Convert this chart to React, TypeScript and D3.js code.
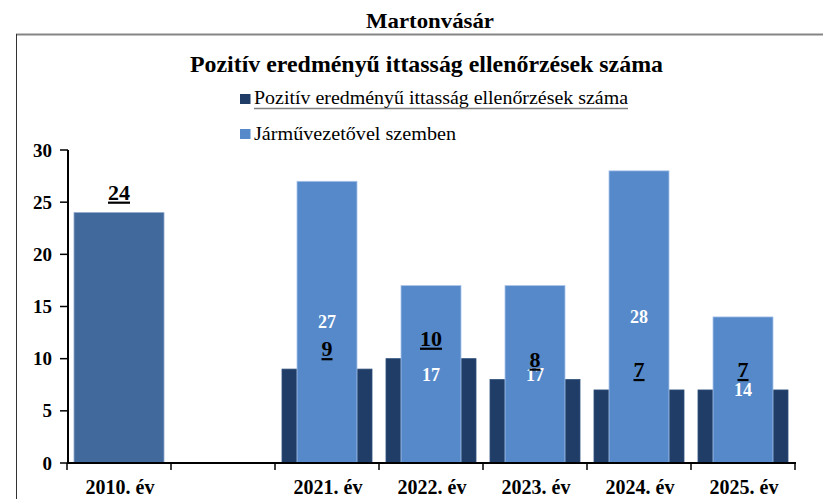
import React from "react";
import * as d3 from "d3";

const categories = ["2010. év", "", "2021. év", "2022. év", "2023. év", "2024. év", "2025. év"];
const seriesNames = ["Pozitív eredményű ittasság ellenőrzések száma", "Járművezetővel szemben"];
const positiveValues: (number | null)[] = [24, null, 9, 10, 8, 7, 7];
const driverValues: (number | null)[] = [null, null, 27, 17, 17, 28, 14];
const yTicks = [0, 5, 10, 15, 20, 25, 30];
const pageTitle = "Martonvásár";
const chartTitle = "Pozitív eredményű ittasság ellenőrzések száma";

const W = 823;
const H = 499;
const FONT = "'Liberation Serif', 'Times New Roman', serif";
const DARK = "#1F3D66";
const FIRST = "#41699C";
const LIGHT = "#5689C9";

export default function App() {
  const x = d3
    .scaleBand<number>()
    .domain(d3.range(categories.length))
    .range([67, 795])
    .padding(0);
  const y = d3.scaleLinear().domain([0, 30]).range([463, 150]);
  const bw = x.bandwidth();
  const darkW = bw * (90 / 104);
  const lightW = bw * (60 / 104);
  const boundaries = d3.range(categories.length + 1).map((i) => 67 + i * bw);

  return (
    <svg
      width={W}
      height={H}
      style={{ position: "absolute", left: 0, top: 0, background: "#fff" }}
      fontFamily={FONT}
    >
      <rect width={W} height={H} fill="#fff" />
      <text
        x={366}
        y={28}
        fontSize={22}
        fontWeight="bold"
        textLength={128}
        lengthAdjust="spacingAndGlyphs"
      >
        {pageTitle}
      </text>
      <line x1={16} x2={W} y1={34.5} y2={34.5} stroke="#858585" strokeWidth={2} />
      <line x1={16.5} x2={16.5} y1={34} y2={H} stroke="#333" strokeWidth={1} />

      <text
        x={190}
        y={72}
        fontSize={23}
        fontWeight="bold"
        textLength={473}
        lengthAdjust="spacingAndGlyphs"
      >
        {chartTitle}
      </text>

      {/* legend */}
      <rect x={240} y={94} width={10.5} height={10} fill={DARK} />
      <text x={254} y={104} fontSize={19} textLength={374} lengthAdjust="spacingAndGlyphs">
        {seriesNames[0]}
      </text>
      <line x1={254} x2={628} y1={108.5} y2={108.5} stroke="#808080" strokeWidth={1.5} />
      <rect x={240} y={129} width={10.5} height={10} fill={LIGHT} />
      <text x={254} y={140} fontSize={19} textLength={202} lengthAdjust="spacingAndGlyphs">
        {seriesNames[1]}
      </text>

      {/* dark bars */}
      {positiveValues.map((v, i) =>
        v == null ? null : (
          <rect
            key={"d" + i}
            x={x(i)! + (bw - darkW) / 2}
            y={y(v)}
            width={darkW}
            height={y(0) - y(v)}
            fill={i === 0 ? FIRST : DARK}
            stroke={i === 0 ? "#8FA9CF" : "#2E4E7A"}
            strokeWidth={0.8}
          />
        )
      )}
      {/* light bars */}
      {driverValues.map((v, i) =>
        v == null ? null : (
          <rect
            key={"l" + i}
            x={x(i)! + (bw - lightW) / 2}
            y={y(v)}
            width={lightW}
            height={y(0) - y(v)}
            fill={LIGHT}
            stroke="#A9C3EA"
            strokeWidth={0.8}
          />
        )
      )}

      {/* axes */}
      <line x1={68} x2={68} y1={150} y2={464} stroke="#000" strokeWidth={2} />
      {yTicks.map((t) => (
        <g key={"yt" + t}>
          <line x1={60} x2={68} y1={y(t)} y2={y(t)} stroke="#000" strokeWidth={1.5} />
          <text
            x={52}
            y={y(t)}
            dy="0.35em"
            textAnchor="end"
            fontSize={19}
            fontWeight="bold"
          >
            {t}
          </text>
        </g>
      ))}
      <line x1={67} x2={796} y1={463} y2={463} stroke="#000" strokeWidth={2} />
      {boundaries.map((b, i) => (
        <line key={"xt" + i} x1={b} x2={b} y1={463} y2={470} stroke="#000" strokeWidth={1.5} />
      ))}
      {categories.map((c, i) => (
        <text
          key={"xl" + i}
          x={x(i)! + bw / 2 + 1}
          y={494}
          textAnchor="middle"
          fontSize={20}
          fontWeight="bold"
        >
          {c}
        </text>
      ))}

      {/* light labels */}
      {driverValues.map((v, i) =>
        v == null ? null : (
          <text
            key={"ll" + i}
            x={x(i)! + bw / 2}
            y={(y(v) + y(0)) / 2}
            dy="0.35em"
            textAnchor="middle"
            fontSize={18}
            fontWeight="bold"
            fill="#fff"
          >
            {v}
          </text>
        )
      )}
      {/* dark labels */}
      {positiveValues.map((v, i) =>
        v == null ? null : (
          <text
            key={"dl" + i}
            x={x(i)! + bw / 2}
            y={y(v) - 13}
            textAnchor="middle"
            fontSize={22}
            fontWeight="bold"
            textDecoration="underline"
            fill="#000"
          >
            {v}
          </text>
        )
      )}
    </svg>
  );
}
